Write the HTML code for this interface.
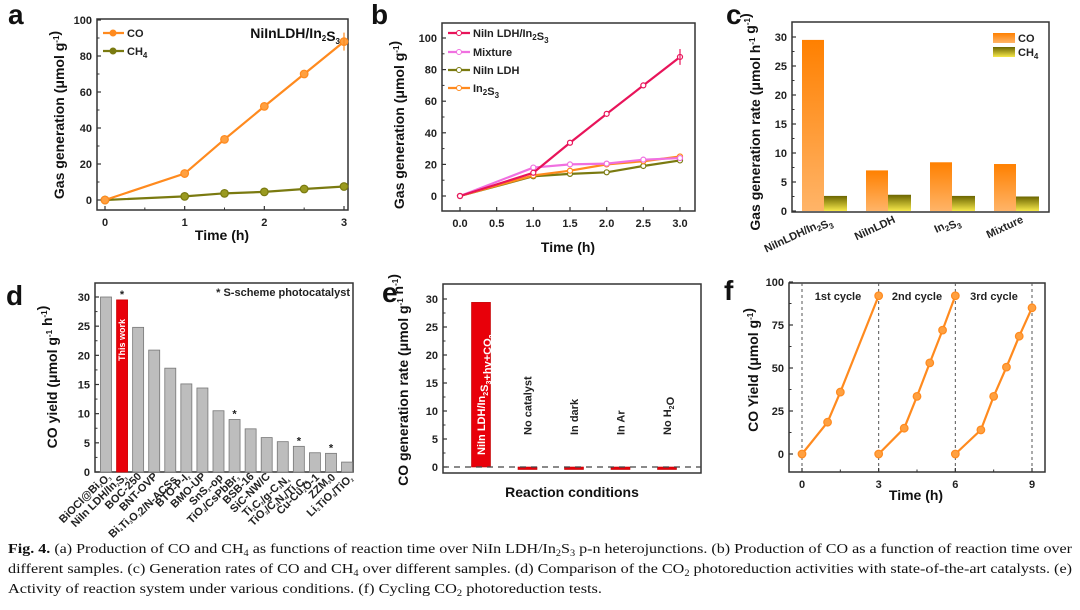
<!DOCTYPE html>
<html><head><meta charset="utf-8"><style>
body{margin:0;background:#fff;}
svg{display:block;font-family:"Liberation Sans",Arial,sans-serif;}
.t{font-weight:bold;font-size:11px;fill:#222;}
.at{font-weight:bold;font-size:14px;fill:#111;}
.pl{font-weight:bold;font-size:28px;fill:#111;}
.cap{font-family:"Liberation Serif",serif;font-size:14px;fill:#111;}
</style></head><body>
<svg id="fig" width="1080" height="610" viewBox="0 0 1080 610" xmlns="http://www.w3.org/2000/svg">
<defs>
<linearGradient id="gCO" x1="0" y1="0" x2="0" y2="1"><stop offset="0" stop-color="#ff8000"/><stop offset="1" stop-color="#ffb468"/></linearGradient>
<linearGradient id="gCH" x1="0" y1="0" x2="0" y2="1"><stop offset="0" stop-color="#6b6500"/><stop offset="1" stop-color="#f6e84a"/></linearGradient>
</defs>
<text class="pl" x="8" y="24">a</text>
<text class="pl" x="371" y="24">b</text>
<text class="pl" x="726" y="24">c</text>
<text class="pl" x="6" y="305">d</text>
<text class="pl" x="382" y="302">e</text>
<text class="pl" x="724" y="300">f</text>
<g>
<text class="cap" x="8" y="553" textLength="1064" lengthAdjust="spacingAndGlyphs"><tspan font-weight="bold">Fig. 4.</tspan>  (a) Production of CO and CH<tspan font-size="9" dy="3">4</tspan><tspan dy="-3"> as functions of reaction time over NiIn LDH/In</tspan><tspan font-size="9" dy="3">2</tspan><tspan dy="-3">S</tspan><tspan font-size="9" dy="3">3</tspan><tspan dy="-3"> p-n heterojunctions. (b) Production of CO as a function of reaction time over</tspan></text>
<text class="cap" x="8" y="573" textLength="1064" lengthAdjust="spacingAndGlyphs">different samples. (c) Generation rates of CO and CH<tspan font-size="9" dy="3">4</tspan><tspan dy="-3"> over different samples. (d) Comparison of the CO</tspan><tspan font-size="9" dy="3">2</tspan><tspan dy="-3"> photoreduction activities with state-of-the-art catalysts. (e)</tspan></text>
<text class="cap" x="8" y="593" textLength="594" lengthAdjust="spacingAndGlyphs">Activity of reaction system under various conditions. (f) Cycling CO<tspan font-size="9" dy="3">2</tspan><tspan dy="-3"> photoreduction tests.</tspan></text>
</g>
</svg>
<script>
// Panel a
const aTime=[0,1,1.5,2,2.5,3];
const aCO=[0,14.7,33.7,52,70,88];
const aCH4=[0,2,3.7,4.5,6.1,7.5];
const aYTicks=[0,20,40,60,80,100];
const aXTicks=[0,1,2,3];
// Panel b
const bTime=[0,1,1.5,2,2.5,3];
const bComposite=[0,14.7,33.7,52,70,88];
const bMixture=[0,18,20,20.5,23,24];
const bNiIn=[0,12.5,14,15,19,22.5];
const bIn2S3=[0,13,16,20,22,25];
const bYTicks=[0,20,40,60,80,100];
const bXTicks=[0,0.5,1,1.5,2,2.5,3];
// Panel c
const cCats=["NiInLDH/In2S3","NiInLDH","In2S3","Mixture"];
const cCO=[29.5,7,8.4,8.1];
const cCH4=[2.6,2.8,2.6,2.5];
const cYTicks=[0,5,10,15,20,25,30];
// Panel d
const dCats=["BiOCl@Bi2O3","NiIn LDH/In2S3","BOC-250","BNT-OVP","Bi4Ti3O12/N-ACSs","BTO-P-I2","BMO-UP","SnS2-op","TiO2/CsPbBr3","BSB-16","SiC-NW/C","Ti3C2/g-C3N4","TiO2/C3N4/Ti3C2","Cu-Cu2O-1","ZZM30","Li2TiO3/TiO2"];
const dVals=[30,29.5,24.8,20.9,17.8,15.1,14.4,10.5,9.0,7.4,5.9,5.2,4.4,3.3,3.2,1.7];
const dStar=[false,true,false,false,false,false,false,false,true,false,false,false,true,false,true,false];
const dYTicks=[0,5,10,15,20,25,30];
// Panel e
const eCats=["NiIn LDH/In2S3+hv+CO2","No catalyst","In dark","In Ar","No H2O"];
const eVals=[29.4,-0.3,-0.3,-0.3,-0.3];
const eYTicks=[0,5,10,15,20,25,30];
// Panel f
const fC1x=[0,1,1.5,3], fC1y=[0,18.5,36,92];
const fC2x=[3,4,4.5,5,5.5,6], fC2y=[0,15,33.5,53,72,92];
const fC3x=[6,7,7.5,8,8.5,9], fC3y=[0,14,33.5,50.5,68.5,85];
const fYTicks=[0,25,50,75,100];
const fXTicks=[0,3,6,9];

const svg=document.getElementById('fig');
const NS="http://www.w3.org/2000/svg";
function mk(tag,attrs,name,parent,txt){
  const e=document.createElementNS(NS,tag);
  for(const k in attrs)e.setAttribute(k,attrs[k]);
  
  
  if(txt!==undefined)e.textContent=txt;
  (parent||svg).appendChild(e);return e;
}
function lin(d0,d1,r0,r1){return v=>r0+(v-d0)*(r1-r0)/(d1-d0);}
function frame(p,x0,y0,x1,y1){mk('rect',{x:x0,y:y0,width:x1-x0,height:y1-y0,fill:'none',stroke:'#333','stroke-width':1.5},p+'-plot-frame');}
function yaxis(p,ticks,sy,x0,fmt,minor){
  ticks.forEach(v=>{
    mk('line',{x1:x0,x2:x0+4,y1:sy(v),y2:sy(v),stroke:'#333','stroke-width':1.2},p+'-y-tick');
    mk('text',{x:x0-5,y:sy(v)+4,'text-anchor':'end',class:'t'},p+'-y-tick-label',null,fmt?fmt(v):v);
  });
  if(minor)for(let i=0;i<ticks.length-1;i++){const m=(ticks[i]+ticks[i+1])/2;mk('line',{x1:x0,x2:x0+2.5,y1:sy(m),y2:sy(m),stroke:'#333'},p+'-y-minor-tick');}
}
function xaxis(p,ticks,sx,y0,fmt,minor){
  ticks.forEach(v=>{
    mk('line',{x1:sx(v),x2:sx(v),y1:y0,y2:y0-4,stroke:'#333','stroke-width':1.2},p+'-x-tick');
    mk('text',{x:sx(v),y:y0+16,'text-anchor':'middle',class:'t'},p+'-x-tick-label',null,fmt?fmt(v):v);
  });
  if(minor)for(let i=0;i<ticks.length-1;i++){const m=(ticks[i]+ticks[i+1])/2;mk('line',{x1:sx(m),x2:sx(m),y1:y0,y2:y0-2.5,stroke:'#333'},p+'-x-minor-tick');}
}
function ytitle(p,x,y,html){const t=mk('text',{x:0,y:0,class:'at',transform:`translate(${x},${y}) rotate(-90)`,'text-anchor':'middle'},p+'-y-axis-title');t.innerHTML=html;return t;}
function series(p,name,xs,ys,sx,sy,color,r,fill){
  const g=mk('g',{},p+'-series-'+name);
  mk('polyline',{points:xs.map((x,i)=>sx(x)+','+sy(ys[i])).join(' '),fill:'none',stroke:color,'stroke-width':2.2},p+'-line-'+name,g);
  xs.forEach((x,i)=>mk('circle',{cx:sx(x),cy:sy(ys[i]),r:r,fill:fill||color,stroke:color,'stroke-width':1.2},p+'-point-'+name,g));
}
const sup=s=>`<tspan font-size="8" dy="-5">${s}</tspan><tspan dy="5"></tspan>`;
const sub=s=>`<tspan font-size="8" dy="3">${s}</tspan><tspan dy="-3"></tspan>`;

// ---- Panel a
{const sx=lin(0,3,105,344), sy=lin(0,100,200,20);
frame('a',97,19,348,210);
yaxis('a',aYTicks,sy,97,null,true); xaxis('a',aXTicks,sx,210,null,true);
ytitle('a',64,115,'Gas generation (μmol g'+sup('-1')+')');
mk('text',{x:222,y:240,'text-anchor':'middle',class:'at','font-size':'15'},'a-x-axis-title',null,'Time (h)');
series('a','ch4',aTime,aCH4,sx,sy,'#7a7a10',3.8,'#9a9a20');
series('a','co',aTime,aCO,sx,sy,'#ff8a1e',3.8,'#ffa040');
mk('line',{x1:sx(3),x2:sx(3),y1:sy(93),y2:sy(83),stroke:'#ff8a1e','stroke-width':1.2},'a-error-bar');
[['co','#ff8a1e','CO',33],['ch4','#7a7a10','CH<tspan font-size="8" dy="3">4</tspan>',51]].forEach(l=>{
 mk('line',{x1:103,x2:124,y1:l[3],y2:l[3],stroke:l[1],'stroke-width':2.2},'a-legend-line-'+l[0]);
 mk('circle',{cx:113,cy:l[3],r:3.5,fill:l[1]},'a-legend-marker-'+l[0]);
 const t=mk('text',{x:127,y:l[3]+4,class:'t'},'a-legend-label-'+l[0]);t.innerHTML=l[2];});
const tt=mk('text',{x:340,y:38,'text-anchor':'end',class:'at','font-size':'15'},'a-sample-title');tt.innerHTML='NiInLDH/In'+sub('2')+'S'+sub('3');}

// ---- Panel b
{const sx=lin(0,3,460,680), sy=lin(0,100,196,38);
frame('b',442,23,695,211);
yaxis('b',bYTicks,sy,442,null,true); xaxis('b',bXTicks,sx,211,v=>v.toFixed(1),false);
ytitle('b',404,125,'Gas generation (μmol g'+sup('-1')+')');
mk('text',{x:568,y:252,'text-anchor':'middle',class:'at','font-size':'15'},'b-x-axis-title',null,'Time (h)');
series('b','niin-ldh',bTime,bNiIn,sx,sy,'#7a7a10',2.5,'#fff');
series('b','in2s3',bTime,bIn2S3,sx,sy,'#ff8a1e',2.5,'#fff');
series('b','mixture',bTime,bMixture,sx,sy,'#f070e0',2.5,'#fff');
series('b','composite',bTime,bComposite,sx,sy,'#e8145a',2.5,'#fff');
mk('line',{x1:sx(3),x2:sx(3),y1:sy(93),y2:sy(83),stroke:'#e8145a','stroke-width':1.2},'b-error-bar');
[['composite','#e8145a','NiIn LDH/In'+sub('2')+'S'+sub('3'),33],['mixture','#f070e0','Mixture',52],['niin-ldh','#7a7a10','NiIn LDH',70],['in2s3','#ff8a1e','In'+sub('2')+'S'+sub('3'),88]].forEach(l=>{
 mk('line',{x1:448,x2:470,y1:l[3],y2:l[3],stroke:l[1],'stroke-width':2.2},'b-legend-line-'+l[0]);
 mk('circle',{cx:459,cy:l[3],r:2.5,fill:'#fff',stroke:l[1]},'b-legend-marker-'+l[0]);
 const t=mk('text',{x:473,y:l[3]+4,class:'t'},'b-legend-label-'+l[0]);t.innerHTML=l[2];});}

// ---- Panel c
{const sy=lin(0,30,211,37);
frame('c',792,22,1049,212);
yaxis('c',cYTicks,sy,792,null,true);
ytitle('c',760,122,'Gas generation rate (μmol h'+sup('-1')+' g'+sup('-1')+')').setAttribute('font-size','12');
const bx=i=>802+i*64;
cCats.forEach((c,i)=>{
 mk('rect',{x:bx(i),y:sy(cCO[i]),width:22,height:sy(0)-sy(cCO[i]),fill:'url(#gCO)'},'c-bar-co');
 mk('rect',{x:bx(i)+22,y:sy(cCH4[i]),width:23,height:sy(0)-sy(cCH4[i]),fill:'url(#gCH)'},'c-bar-ch4');
 const lbl=c.replace(/(In)2(S)3/,'$1'+sub('2')+'$2'+sub('3'));
 const t=mk('text',{x:0,y:0,class:'t','text-anchor':'end',transform:`translate(${bx(i)+30},${222}) rotate(-25)`,'font-size':'10'},'c-x-tick-label');t.innerHTML=lbl;
});
mk('rect',{x:993,y:33,width:22,height:10,fill:'url(#gCO)'},'c-legend-swatch-co');
mk('text',{x:1018,y:42,class:'t'},'c-legend-label-co',null,'CO');
mk('rect',{x:993,y:47,width:22,height:10,fill:'url(#gCH)'},'c-legend-swatch-ch4');
mk('text',{x:1018,y:56,class:'t'},'c-legend-label-ch4').innerHTML='CH'+sub('4');}

// ---- Panel d
{const sy=lin(0,30,472,297); const bx=i=>106+i*16.07;
frame('d',95,283,353,472);
yaxis('d',dYTicks,sy,95,null,true);
ytitle('d',57,377,'CO yield (μmol g'+sup('-1')+' h'+sup('-1')+')').setAttribute('font-size','15');
dVals.forEach((v,i)=>{
 mk('rect',{x:bx(i)-5.5,y:sy(v),width:11,height:sy(0)-sy(v),fill:i===1?'#e8000a':'#bdbdbd',stroke:i===1?'#c00':'#777','stroke-width':0.8},'d-bar');
 if(dStar[i])mk('text',{x:bx(i),y:sy(v)-2,'text-anchor':'middle',class:'t','font-size':'15'},'d-star-marker',null,'*');
 const lbl=dCats[i].replace(/([A-Za-z])(\d)/g,(m,a,b)=>a+'<tspan font-size="4.5" dy="1.5">'+b+'</tspan><tspan dy="-1.5"></tspan>');
 const t=mk('text',{x:0,y:0,class:'t','text-anchor':'end','font-size':'6.5',transform:`translate(${bx(i)+4},${477}) rotate(-45)`},'d-x-tick-label');t.innerHTML=lbl;
});
mk('text',{x:0,y:0,'text-anchor':'middle','font-size':'9','font-weight':'bold',fill:'#fff',transform:`translate(${bx(1)+3},${340}) rotate(-90)`},'d-this-work-label',null,'This work');
mk('text',{x:350,y:296,'text-anchor':'end',class:'t','font-size':'11.5'},'d-legend-note',null,'* S-scheme photocatalyst');}

// ---- Panel e
{const sy=lin(0,30,467,299); const bx=i=>481+i*46.5;
frame('e',443,284,701,473);
yaxis('e',eYTicks,sy,443,null,true);
ytitle('e',408,380,'CO generation rate (μmol g'+sup('-1')+' h'+sup('-1')+')').setAttribute('font-size','12.5');
mk('text',{x:572,y:497,'text-anchor':'middle',class:'at','font-size':'15'},'e-x-axis-title',null,'Reaction conditions');
eVals.forEach((v,i)=>{
 const y0=sy(Math.max(v,0)),y1=sy(Math.min(v,0));
 mk('rect',{x:bx(i)-9.5,y:y0,width:19,height:Math.max(y1-y0,2.5),fill:'#e8000a',stroke:'#b00','stroke-width':0.6},'e-bar');
 const lbl=eCats[i].replace(/([A-Za-z])(\d)/g,(m,a,b)=>a+'<tspan font-size="7" dy="3">'+b+'</tspan><tspan dy="-3"></tspan>');
 const t=mk('text',{x:0,y:0,class:'t','font-size':i===0?'10.5':'11.5',transform:`translate(${bx(i)+4},${i===0?455:435}) rotate(-90)`},'e-condition-label');t.innerHTML=lbl;
 if(i===0)t.setAttribute('style','fill:#fff');
});
mk('line',{x1:443,x2:701,y1:sy(0),y2:sy(0),stroke:'#444','stroke-dasharray':'6,5','stroke-width':1.2},'e-zero-line');}

// ---- Panel f
{const sx=lin(0,9,802,1032), sy=lin(0,100,454,282);
frame('f',789,283,1045,472);
[0,3,6,9].forEach(v=>mk('line',{x1:sx(v),x2:sx(v),y1:283,y2:472,stroke:'#555','stroke-dasharray':'3,3'},'f-cycle-divider'));
yaxis('f',fYTicks,sy,789,null,true); xaxis('f',fXTicks,sx,472,null,true);
ytitle('f',758,370,'CO Yield (μmol g'+sup('-1')+')').setAttribute('font-size','15');
mk('text',{x:916,y:500,'text-anchor':'middle',class:'at','font-size':'15'},'f-x-axis-title',null,'Time (h)');
series('f','cycle-1',fC1x,fC1y,sx,sy,'#ff8a1e',3.8,'#ffa040');
series('f','cycle-2',fC2x,fC2y,sx,sy,'#ff8a1e',3.8,'#ffa040');
series('f','cycle-3',fC3x,fC3y,sx,sy,'#ff8a1e',3.8,'#ffa040');
[['1st cycle',838],['2nd cycle',917],['3rd cycle',994]].forEach(c=>mk('text',{x:c[1],y:300,'text-anchor':'middle',class:'t','font-size':'11.5'},'f-cycle-label',null,c[0]));}
</script>
</body></html>
